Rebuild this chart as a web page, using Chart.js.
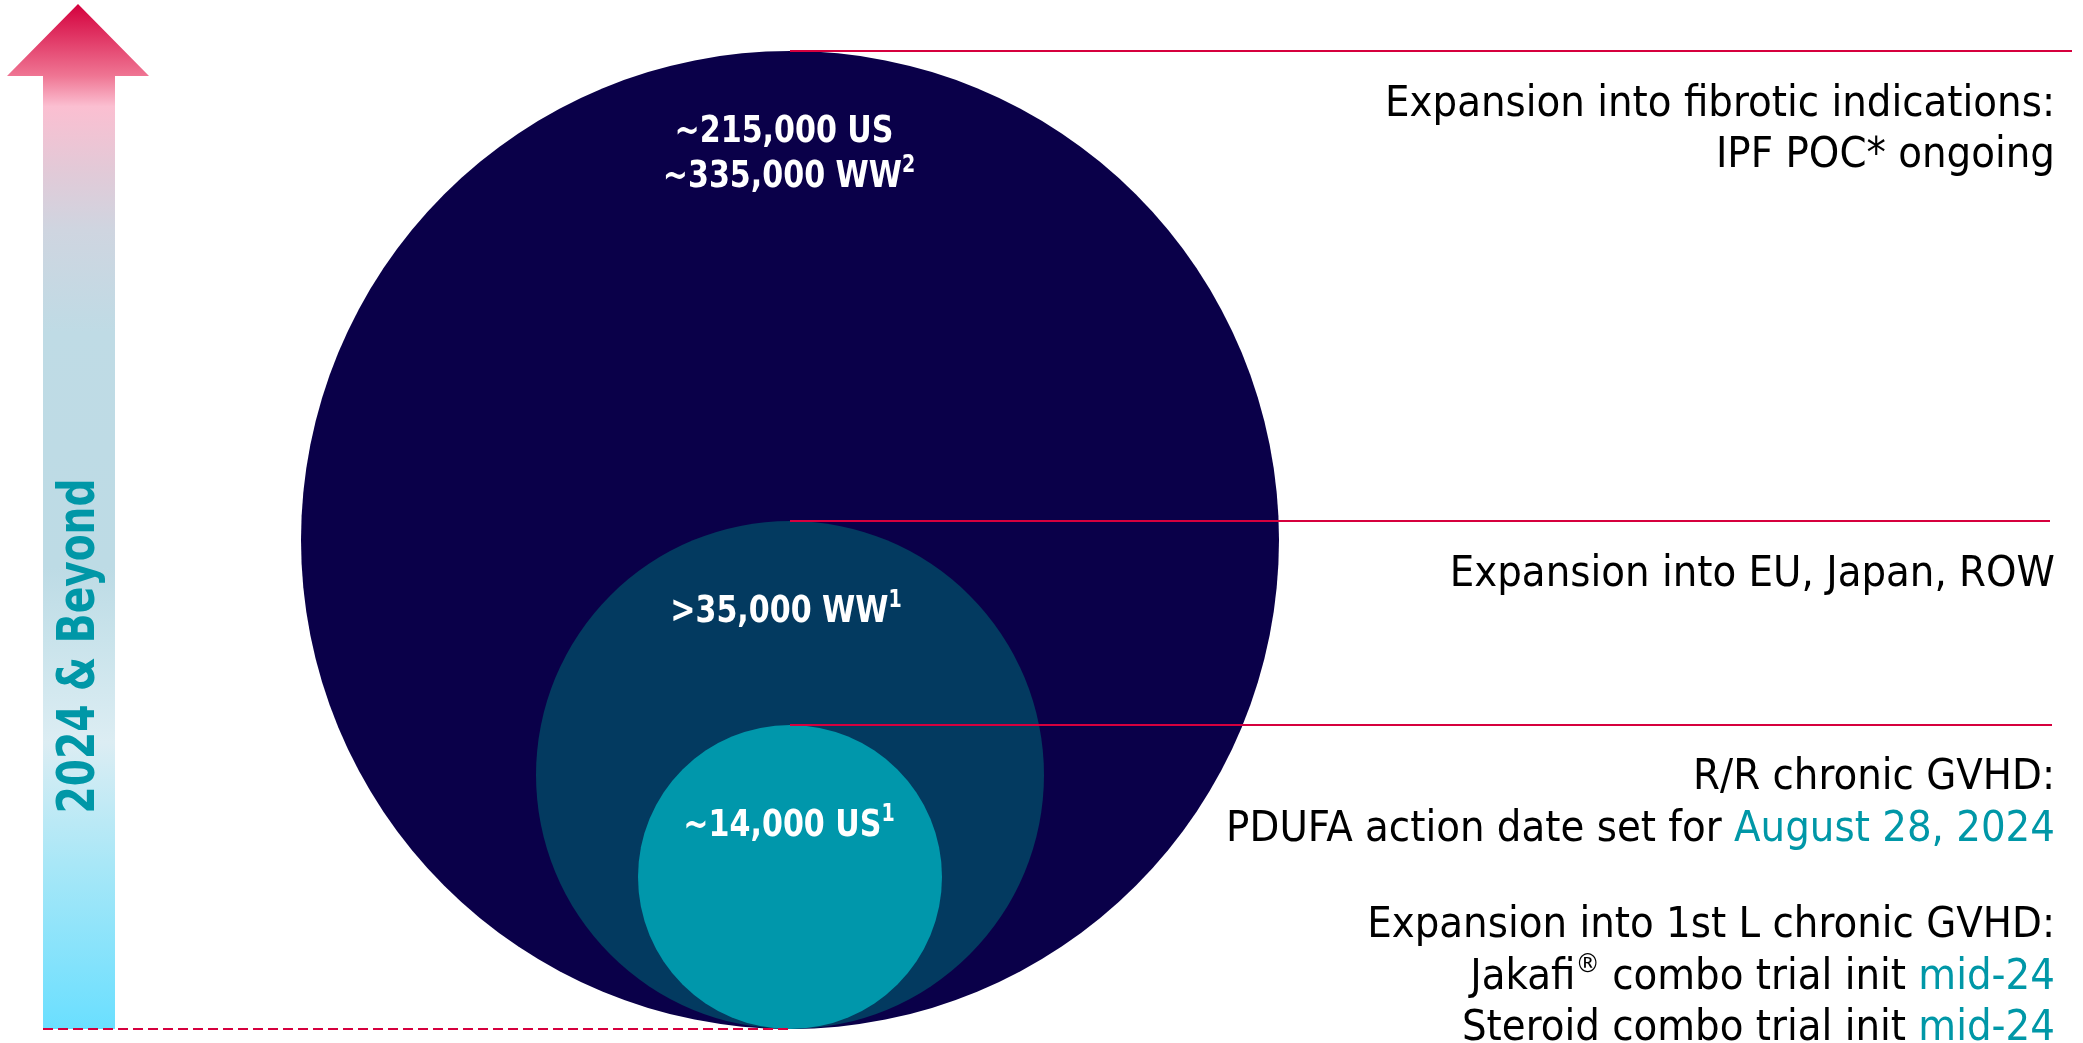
<!DOCTYPE html>
<html>
<head>
<meta charset="utf-8">
<script src="https://cdn.jsdelivr.net/npm/chart.js@4.4.1/dist/chart.umd.min.js"></script>
<style>
  html, body { margin: 0; padding: 0; background: #fff; }
  #wrap { width: 2083px; height: 1043px; }
</style>
</head>
<body>
<div id="wrap"><canvas id="popChart" width="2083" height="1043"></canvas></div>
<script>
// ===== data =====
// nested circles, biggest first (radius in chart units)
const circleRadii = [489, 254, 152];
const circleLabels = [['~215,000 US', '~335,000 WW²'], ['>35,000 WW¹'], ['~14,000 US¹']];

// right hand text, one entry per line, [text, highlighted]
const milestoneLines = [
  [['Expansion into fibrotic indications:', false]],
  [['IPF POC* ongoing', false]],
  [['Expansion into EU, Japan, ROW', false]],
  [['R/R chronic GVHD:', false]],
  [['PDUFA action date set for ', false], ['August 28, 2024', true]],
  [['Expansion into 1st L chronic GVHD:', false]],
  [['Jakafi® combo trial init ', false], ['mid-24', true]],
  [['Steroid combo trial init ', false], ['mid-24', true]]
];
const arrowLabel = '2024 & Beyond';

// ===== layout / style =====
const W = 2083, H = 1043;
const centerX = 790, baseY = 14;          // circles all sit on baseY
const lineEnds = [2072, 2050, 2052];
const milestoneY = [105, 156, 575, 778, 830, 926, 978, 1029];
const labelY = [[132, 177], [612], [826]];
const labelX = [[784, 789], [786], [789]];
const textRight = 2055;
const circleColors = ['#0a0049', '#033a60', '#0097ab'];
const red = '#d6003e';
const teal = '#0097a7';
const FONT = '"DejaVu Sans Condensed", "DejaVu Sans", sans-serif';

// superscript chars get drawn small and raised
const SUP = { '¹': '1', '²': '2', '®': '®' };
function toRuns(segs) {
  const out = [];
  segs.forEach(([text, hl]) => {
    for (const ch of text) {
      const sup = ch in SUP;
      const t = sup ? SUP[ch] : ch;
      const last = out[out.length - 1];
      if (last && last.sup === sup && last.hl === hl) last.t += t;
      else out.push({ t, sup, hl });
    }
  });
  return out;
}
function setFont(ctx, weight, size, sup) {
  ctx.font = weight + ' ' + (sup ? Math.round(size * 0.62) : size) + 'px ' + FONT;
}
function runsWidth(ctx, runs, weight, size) {
  let w = 0;
  runs.forEach(r => { setFont(ctx, weight, size, r.sup); w += ctx.measureText(r.t).width; });
  return w;
}
// draw runs starting at x=0 (already translated/scaled)
function drawRuns(ctx, runs, weight, size, colorFn) {
  let x = 0;
  runs.forEach(r => {
    setFont(ctx, weight, size, r.sup);
    ctx.fillStyle = colorFn(r);
    ctx.fillText(r.t, x, r.sup ? -size * 0.3 : 0);
    x += ctx.measureText(r.t).width;
  });
}

const decorPlugin = {
  id: 'decor',
  beforeDatasetsDraw(chart) {
    const ctx = chart.ctx;
    const ys = chart.scales.y;
    const bottom = ys.getPixelForValue(baseY);
    // big arrow on the left
    const g = ctx.createLinearGradient(0, 4, 0, bottom);
    g.addColorStop(0, '#d4003d');
    g.addColorStop(0.07, '#ef7593');
    g.addColorStop(0.10, '#fbbfd1');
    g.addColorStop(0.16, '#e3c9d7');
    g.addColorStop(0.22, '#cfd5e0');
    g.addColorStop(0.32, '#bfdbe5');
    g.addColorStop(0.55, '#bddbe5');
    g.addColorStop(0.62, '#c9e3eb');
    g.addColorStop(0.72, '#dcedf3');
    g.addColorStop(0.84, '#a8e7f7');
    g.addColorStop(1, '#6adfff');
    ctx.save();
    ctx.fillStyle = g;
    ctx.beginPath();
    ctx.moveTo(78, 4);
    ctx.lineTo(149, 76);
    ctx.lineTo(115, 76);
    ctx.lineTo(115, bottom);
    ctx.lineTo(43, bottom);
    ctx.lineTo(43, 76);
    ctx.lineTo(7, 76);
    ctx.closePath();
    ctx.fill();

    // rotated label
    ctx.font = 'bold 52px ' + FONT;
    const k = 335 / ctx.measureText(arrowLabel).width;
    ctx.translate(80, 646);
    ctx.rotate(-Math.PI / 2);
    ctx.scale(k, 1);
    ctx.fillStyle = teal;
    ctx.textAlign = 'center';
    ctx.textBaseline = 'middle';
    ctx.fillText(arrowLabel, 0, 0);
    ctx.restore();
  },
  afterDatasetsDraw(chart) {
    const ctx = chart.ctx;
    const xs = chart.scales.x;

    // labels inside circles
    ctx.save();
    ctx.textAlign = 'left';
    ctx.textBaseline = 'middle';
    const cSize = 38, cWeight = 'bold';
    const kc = 219 / runsWidth(ctx, toRuns([[circleLabels[0][0], false]]), cWeight, cSize);
    circleLabels.forEach((lines, i) => {
      lines.forEach((t, j) => {
        const runs = toRuns([[t, false]]);
        const w = runsWidth(ctx, runs, cWeight, cSize) * kc;
        ctx.save();
        ctx.translate(xs.getPixelForValue(labelX[i][j]) - w / 2, labelY[i][j]);
        ctx.scale(kc, 1);
        drawRuns(ctx, runs, cWeight, cSize, () => '#ffffff');
        ctx.restore();
      });
    });
    ctx.restore();

    // milestone text on the right
    ctx.save();
    ctx.textAlign = 'left';
    ctx.textBaseline = 'middle';
    const mSize = 43, mWeight = 'normal';
    const km = 670 / runsWidth(ctx, toRuns(milestoneLines[0]), mWeight, mSize);
    milestoneLines.forEach((segs, i) => {
      const runs = toRuns(segs);
      const total = runsWidth(ctx, runs, mWeight, mSize) * km;
      ctx.save();
      ctx.translate(textRight - total, milestoneY[i]);
      ctx.scale(km, 1);
      drawRuns(ctx, runs, mWeight, mSize, r => r.hl ? teal : '#000000');
      ctx.restore();
    });
    ctx.restore();
  }
};

const lineSets = circleRadii.map((r, i) => ({
  type: 'line',
  data: [{ x: centerX, y: baseY + 2 * r }, { x: lineEnds[i], y: baseY + 2 * r }],
  borderColor: red,
  borderWidth: 2,
  pointRadius: 0,
  order: 0
}));

const dashedSet = {
  type: 'line',
  data: [{ x: 43, y: baseY }, { x: centerX, y: baseY }],
  borderColor: red,
  borderWidth: 2,
  borderDash: [10, 5],
  pointRadius: 0,
  order: 0
};

const circleSet = {
  type: 'scatter',
  data: circleRadii.map(r => ({ x: centerX, y: baseY + r })),
  pointRadius: ctx => {
    if (ctx.type !== 'data') return 0;
    const s = ctx.chart.scales.y;
    return s.getPixelForValue(0) - s.getPixelForValue(circleRadii[ctx.dataIndex]);
  },
  pointBackgroundColor: circleColors,
  pointBorderWidth: 0,
  order: 1
};

new Chart(document.getElementById('popChart'), {
  type: 'scatter',
  data: { datasets: [...lineSets, dashedSet, circleSet] },
  options: {
    responsive: false,
    animation: false,
    events: [],
    layout: { padding: 0 },
    scales: {
      x: { type: 'linear', display: false, min: 0, max: W },
      y: { type: 'linear', display: false, min: 0, max: H }
    },
    plugins: { legend: { display: false }, tooltip: { enabled: false } }
  },
  plugins: [decorPlugin]
});
</script>
</body>
</html>
